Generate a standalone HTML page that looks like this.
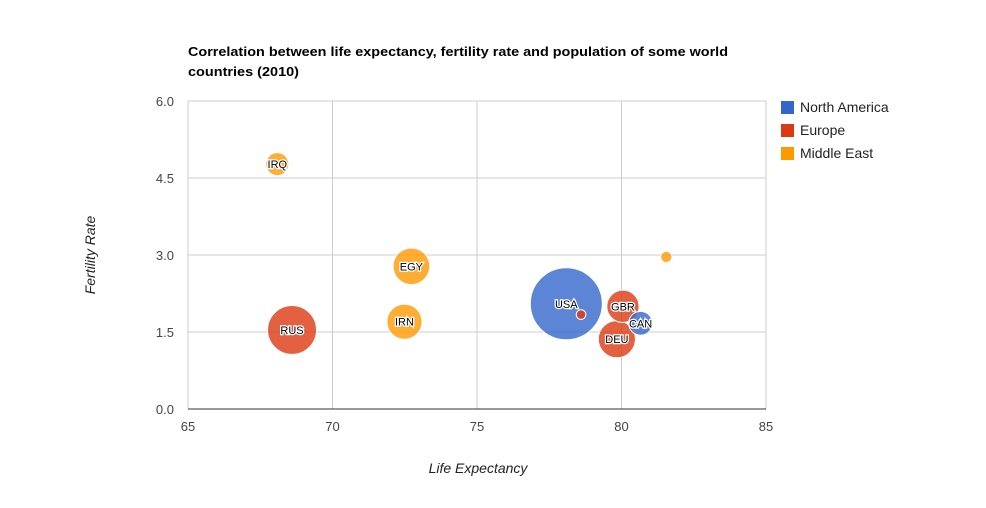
<!DOCTYPE html>
<html><head><meta charset="utf-8"><style>
body{margin:0;background:#fff;font-family:"Liberation Sans",Arial,sans-serif}
</style></head><body>
<svg id="chart" width="986" height="503" xmlns="http://www.w3.org/2000/svg" font-family="Liberation Sans, Arial, sans-serif">
<rect width="986" height="503" fill="#fff"/>
<text x="188" y="56" font-size="13" font-weight="bold" fill="#000" textLength="540" lengthAdjust="spacingAndGlyphs">Correlation between life expectancy, fertility rate and population of some world</text>
<text x="188" y="76" font-size="13" font-weight="bold" fill="#000" textLength="111" lengthAdjust="spacingAndGlyphs">countries (2010)</text>
<g id="grid"></g>
<g id="bubbles"></g>
<text x="478" y="473" font-size="14" font-style="italic" fill="#222" text-anchor="middle">Life Expectancy</text>
<text transform="translate(95,255) rotate(-90)" font-size="14" font-style="italic" fill="#222" text-anchor="middle">Fertility Rate</text>
<g id="legend"></g>
</svg>
<script>
const countries=['CAN','DEU','DNK','EGY','GBR','IRN','IRQ','ISR','RUS','USA'];
const lifeExp=[80.66,79.84,78.6,72.73,80.05,72.49,68.09,81.55,68.6,78.09];
const fertility=[1.67,1.36,1.84,2.78,2,1.7,4.77,2.96,1.54,2.05];
const regions=['North America','Europe','Europe','Middle East','Europe','Middle East','Middle East','Middle East','Europe','North America'];
const population=[33739900,81902307,5523095,79716203,61801570,73137148,31090763,7485600,141850000,307007000];
const xTicks=[65,70,75,80,85];
const yTicks=[0,1.5,3,4.5,6];
const legendNames=['North America','Europe','Middle East'];
const legendColors=['#3366cc','#dc3912','#ff9900'];
const NS='http://www.w3.org/2000/svg';
const X0=188,X1=766,Y0=409,Y1=101;
const xS=v=>X0+(v-65)/(85-65)*(X1-X0);
const yS=v=>Y0-(v-0)/(6-0)*(Y0-Y1);
function mk(t,a,p){const e=document.createElementNS(NS,t);for(const k in a)e.setAttribute(k,a[k]);p.appendChild(e);return e;}
const grid=document.getElementById('grid');
xTicks.forEach(t=>{
 const l=mk('line',{x1:xS(t),x2:xS(t),y1:Y1,y2:Y0,stroke:'#ccc'},grid);
 
 
 const tx=mk('text',{x:xS(t),y:Y0+22,'font-size':13,fill:'#444','text-anchor':'middle'},grid);tx.textContent=t;
 
 
});
yTicks.forEach(t=>{
 const l=mk('line',{x1:X0,x2:X1,y1:yS(t),y2:yS(t),stroke:t===0?'#333':'#ccc'},grid);
 
 
 const tx=mk('text',{x:X0-14,y:yS(t)+5,'font-size':13,fill:'#444','text-anchor':'end'},grid);tx.textContent=t.toFixed(1);
 
 
});
const maxPop=Math.max(...population);
const b=document.getElementById('bubbles');
const order=population.map((p,i)=>i).sort((a,c)=>population[c]-population[a]);
order.forEach(i=>{
 const col=legendColors[legendNames.indexOf(regions[i])];
 const r=36*Math.sqrt(population[i]/maxPop);
 const c=mk('circle',{cx:xS(lifeExp[i]),cy:yS(fertility[i]),r:r,fill:col,'fill-opacity':0.8,stroke:'#fff','stroke-width':1},b);
 
 
});
order.forEach(i=>{
 const r=36*Math.sqrt(population[i]/maxPop);
 if(r<8)return;
 const t=mk('text',{x:xS(lifeExp[i]),y:yS(fertility[i])+4,'font-size':11,fill:'#000','text-anchor':'middle',stroke:'#fff','stroke-width':2.5,'paint-order':'stroke'},b);
 t.textContent=countries[i];
 
 
});
const lg=document.getElementById('legend');
legendNames.forEach((n,k)=>{
 const y=101+k*23;
 const r=mk('rect',{x:781,y:y,width:13,height:13,fill:legendColors[k]},lg);
 
 
 const t=mk('text',{x:800,y:y+11,'font-size':14,fill:'#222'},lg);t.textContent=n;
 
 
});
</script>
</body></html>
